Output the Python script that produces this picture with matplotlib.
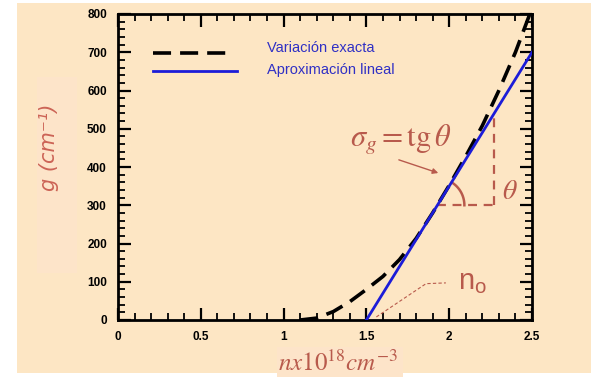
import os
import numpy as np
import matplotlib
matplotlib.use("Agg")
import matplotlib.pyplot as plt
from matplotlib.patches import Rectangle
from matplotlib.font_manager import FontProperties
from matplotlib.ticker import MultipleLocator, FixedLocator, FixedFormatter

plt.rcParams['mathtext.fontset'] = 'stix'
plt.rcParams['font.family'] = ['Liberation Sans', 'DejaVu Sans']

# Data
n_exact = [1.10, 1.20, 1.30, 1.40, 1.50, 1.60, 1.70, 1.80, 1.90, 2.00, 2.10, 2.20, 2.30, 2.40, 2.50]
g_exact = [0, 5, 22, 48, 80, 114, 158, 213, 280, 352, 428, 508, 600, 700, 815]
n_lin = [1.5, 2.5]
g_lin = [0, 700]
xticks = [0, 0.5, 1, 1.5, 2, 2.5]
xticklabels = ["0", "0.5", "1", "1.5", "2", "2.5"]
yticks = [0, 100, 200, 300, 400, 500, 600, 700, 800]
legend_labels = ["Variación exacta", "Aproximación lineal"]

red = '#b85a4c'
blue = '#1c1cd8'
txtblue = '#3030c4'
peach = '#fde6c4'
light = '#fde4c9'

fig = plt.figure(figsize=(5.91, 3.83), dpi=100)
fig.patch.set_facecolor('white')
fig.patches.append(Rectangle((17/591, 10/383), 1 - 17/591, 1 - 13/383,
                             transform=fig.transFigure, facecolor=peach,
                             edgecolor='none', zorder=-10))
# faint lighter boxes behind labels
fig.patches.append(Rectangle((37/591, 1 - 273/383), 40/591, 196/383,
                             transform=fig.transFigure, facecolor=light,
                             edgecolor='none', zorder=-9))
fig.patches.append(Rectangle((277/591, 1 - 377/383), 126/591, 30/383,
                             transform=fig.transFigure, facecolor=light,
                             edgecolor='none', zorder=-9))

ax = fig.add_axes([118/591, 1 - 320/383, 414/591, 306/383])
ax.set_facecolor(peach)
ax.set_xlim(0, 2.5)
ax.set_ylim(0, 800)

ax.plot(n_exact, g_exact, color='black', lw=2.6, dashes=(5, 2.5), zorder=3)
ax.plot(n_lin, g_lin, color=blue, lw=2.0, zorder=4)

# ticks
ax.xaxis.set_major_locator(FixedLocator(xticks))
ax.xaxis.set_major_formatter(FixedFormatter(xticklabels))
ax.xaxis.set_minor_locator(MultipleLocator(0.1))
ax.yaxis.set_major_locator(FixedLocator(yticks))
ax.yaxis.set_minor_locator(MultipleLocator(20))
ax.tick_params(which='both', direction='in', top=True, right=True, colors='black')
ax.tick_params(which='major', length=9, width=1.6, labelsize=8.5, pad=8)
ax.tick_params(which='minor', length=5, width=1.3)
for lab in ax.get_xticklabels() + ax.get_yticklabels():
    lab.set_fontweight('bold')
for s in ax.spines.values():
    s.set_linewidth(2.0)

# legend (manual)
ax.plot([0.21, 0.69], [698, 698], color='black', lw=2.6, dashes=(5, 2.5))
ax.plot([0.21, 0.72], [652, 652], color=blue, lw=2.0)
ax.text(0.90, 711, legend_labels[0], color=txtblue, fontsize=10.5, va='center', ha='left')
ax.text(0.90, 654, legend_labels[1], color=txtblue, fontsize=10.5, va='center', ha='left')

# slope annotation
ax.text(1.705, 470, r'$\sigma_g = \mathrm{tg}\,\theta$', color=red, fontsize=22,
        ha='center', va='center')
ax.annotate('', xy=(1.95, 382), xytext=(1.68, 421),
            arrowprops=dict(arrowstyle='-|>', color=red, lw=1.0, mutation_scale=8))
x0 = 1.5 + 300 / 700
xv = 2.27
ax.plot([x0, xv], [300, 300], color=red, lw=1.6, dashes=(4, 3))
ax.plot([xv, xv], [300, (xv - 1.5) * 700], color=red, lw=1.6, dashes=(4, 3))
r = 27
t = np.linspace(0, np.radians(58), 40)
ax.plot(x0 + r / 165.6 * np.cos(t), 300 + r / 0.3825 * np.sin(t), color=red, lw=1.8)
ax.text(2.365, 335, r'$\theta$', color=red, fontsize=20, ha='center', va='center')

# n_o annotation
ax.plot([1.56, 1.86, 1.98], [8, 95, 97], color=red, lw=0.8, dashes=(3, 2))
ax.text(2.14, 100, r'$\mathregular{n_o}$', color=red, fontsize=21, ha='center', va='center')

# axis labels
obl_path = os.path.join(matplotlib.get_data_path(), 'fonts', 'ttf', 'DejaVuSans-Oblique.ttf')
if os.path.exists(obl_path):
    yfp = FontProperties(fname=obl_path, size=15)
else:
    yfp = FontProperties(family='DejaVu Sans', style='oblique', size=15)
ax.text(-0.167, 0.565, 'g (cm⁻¹)', transform=ax.transAxes, rotation=90,
        color='#cc6456', fontproperties=yfp, ha='center', va='center')
ax.text(0.532, -0.14, r'$nx10^{18}cm^{-3}$', transform=ax.transAxes,
        color=red, fontsize=18, ha='center', va='center')

fig.savefig('out.png', dpi=100, facecolor=fig.get_facecolor())
